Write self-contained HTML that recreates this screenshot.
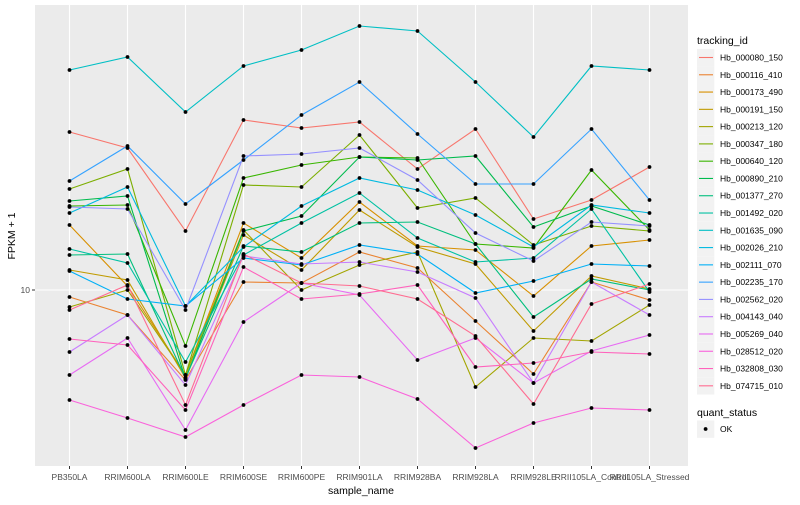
<!DOCTYPE html>
<html><head><meta charset="utf-8"><style>
body{margin:0;background:#fff;font-family:"Liberation Sans",sans-serif}
svg text{font-family:"Liberation Sans",sans-serif}
</style></head><body>
<svg id="chart" width="800" height="500" xmlns="http://www.w3.org/2000/svg">
<rect width="800" height="500" fill="#fff"/>
<g id="plot"></g>
<g id="legend"></g>
</svg>
<script>
const categories=["PB350LA","RRIM600LA","RRIM600LE","RRIM600SE","RRIM600PE","RRIM901LA","RRIM928BA","RRIM928LA","RRIM928LE","RRII105LA_Control","RRII105LA_Stressed"];
const seriesNames=["Hb_000080_150","Hb_000116_410","Hb_000173_490","Hb_000191_150","Hb_000213_120","Hb_000347_180","Hb_000640_120","Hb_000890_210","Hb_001377_270","Hb_001492_020","Hb_001635_090","Hb_002026_210","Hb_002111_070","Hb_002235_170","Hb_002562_020","Hb_004143_040","Hb_005269_040","Hb_028512_020","Hb_032808_030","Hb_074715_010"];
const seriesColors=["#F8766D","#EA8331","#D89000","#C09B00","#A3A500","#7CAE00","#39B600","#00BB4E","#00BF7D","#00C1A3","#00BFC4","#00BAE0","#00B0F6","#35A2FF","#9590FF","#C77CFF","#E76BF3","#FA62DB","#FF62BC","#FF6C91"];
// log10(FPKM + 1) per series
const s0=[2.58,2.42,1.59,2.70,2.62,2.68,2.21,2.61,1.71,1.90,2.23];
const s1=[0.93,0.75,0.10,1.08,1.07,1.38,1.22,0.69,0.16,1.08,0.90];
const s2=[1.65,1.04,0.15,1.67,1.32,1.88,1.44,1.40,0.94,1.44,1.50];
const s3=[1.20,1.10,0.12,1.55,1.20,1.80,1.43,1.26,0.59,1.14,1.01];
const s4=[0.83,1.00,0.15,1.60,1.00,1.25,1.38,0.03,0.52,0.49,0.85];
const s5=[2.01,2.21,0.15,2.05,2.03,2.55,1.82,1.92,1.45,1.64,1.59];
const s6=[1.84,1.85,0.44,2.12,2.25,2.33,2.32,1.46,1.42,2.20,1.60];
const s7=[1.89,1.94,0.11,1.59,1.74,2.33,2.30,2.34,1.63,1.84,1.65];
const s8=[1.35,1.36,0.12,1.44,1.38,1.67,1.68,1.46,0.73,1.11,1.00];
const s9=[1.41,1.27,0.28,1.35,1.67,1.97,1.52,1.28,1.32,1.81,0.98];
const s10=[3.20,3.33,2.78,3.24,3.40,3.64,3.59,3.08,2.53,3.24,3.20];
const s11=[1.77,2.03,0.84,1.43,1.84,2.12,2.00,1.75,1.43,1.85,1.77];
const s12=[1.19,0.91,0.84,1.32,1.25,1.45,1.36,0.97,1.09,1.26,1.24];
const s13=[2.09,2.44,1.86,2.30,2.75,3.08,2.56,2.06,2.06,2.61,1.90];
const s14=[1.83,1.81,0.80,2.34,2.36,2.42,2.10,1.57,1.29,1.68,1.64];
const s15=[0.38,0.75,0.05,1.34,1.26,1.28,1.18,0.92,0.07,1.08,0.75];
const s16=[0.15,0.52,-0.40,0.68,1.07,0.95,0.30,0.52,0.07,0.39,0.55];
const s17=[-0.10,-0.28,-0.47,-0.15,0.15,0.13,-0.09,-0.58,-0.33,-0.18,-0.20];
const s18=[0.51,0.45,-0.20,1.23,0.91,0.96,1.05,0.23,0.27,0.38,0.36];
const s19=[0.80,1.05,-0.15,1.36,1.07,1.04,0.91,0.54,-0.14,0.86,1.06];
const seriesValues=[s0,s1,s2,s3,s4,s5,s6,s7,s8,s9,s10,s11,s12,s13,s14,s15,s16,s17,s18,s19];
const yTickValues=[1];
const yTickLabels=["10"];

const NS="http://www.w3.org/2000/svg";
const P={l:35,r:688,t:5,b:466};
function xPos(i){return 69.5+i*58;}
function yPos(lv){return 290-(lv-1)*100;}
function mk(tag,attrs,parent){const e=document.createElementNS(NS,tag);for(const k in attrs)e.setAttribute(k,attrs[k]);parent.appendChild(e);return e;}
const plot=document.getElementById('plot');
const bg=mk('rect',{x:P.l,y:P.t,width:P.r-P.l,height:P.b-P.t,fill:'#EBEBEB'},plot);


categories.forEach((c,i)=>{
  const g=mk('line',{x1:xPos(i),x2:xPos(i),y1:P.t,y2:P.b,stroke:'#fff','stroke-width':1.1},plot);
  
  
  mk('line',{x1:xPos(i),x2:xPos(i),y1:P.b,y2:P.b+3,stroke:'#333'},plot);
  const t=mk('text',{x:xPos(i),y:480,'font-size':8.5,fill:'#4D4D4D','text-anchor':'middle'},plot);
  t.textContent=c;
  
  
});
yTickValues.forEach((v,i)=>{
  const y=yPos(v);
  const g=mk('line',{x1:P.l,x2:P.r,y1:y,y2:y,stroke:'#fff','stroke-width':1.1},plot);
  
  
  mk('line',{x1:P.l-3,x2:P.l,y1:y,y2:y,stroke:'#333'},plot);
  const t=mk('text',{x:P.l-5,y:y+3,'font-size':8.5,fill:'#4D4D4D','text-anchor':'end'},plot);
  t.textContent=yTickLabels[i];
  
  
});
seriesValues.forEach((vals,si)=>{
  const pts=vals.map((v,i)=>xPos(i)+','+yPos(v)).join(' ');
  const pl=mk('polyline',{points:pts,fill:'none',stroke:seriesColors[si],'stroke-width':1.1},plot);
  
  
});
seriesValues.forEach((vals,si)=>{
  vals.forEach((v,i)=>{
    const c=mk('circle',{cx:xPos(i),cy:yPos(v),r:1.9,fill:'#000'},plot);
    
    
  });
});
const xt=mk('text',{x:361,y:494,'font-size':10.5,fill:'#000','text-anchor':'middle'},plot);
xt.textContent='sample_name';


const yt=mk('text',{x:15,y:236,'font-size':10.5,fill:'#000','text-anchor':'middle',transform:'rotate(-90 15 236)'},plot);
yt.textContent='FPKM + 1';



const lg=document.getElementById('legend');
const lt=mk('text',{x:697,y:44,'font-size':10.5,fill:'#000'},lg);
lt.textContent='tracking_id';


seriesNames.forEach((n,i)=>{
  const y=57.5+i*17.28;
  const g=mk('g',{},lg);
  
  
  mk('rect',{x:697,y:y-8.6,width:17.3,height:17.3,fill:'#F2F2F2'},g);
  mk('line',{x1:699,x2:713,y1:y,y2:y,stroke:seriesColors[i],'stroke-width':1.1},g);
  const t=mk('text',{x:720,y:y+3,'font-size':8.5,fill:'#000'},g);
  t.textContent=n;
});
const qt=mk('text',{x:697,y:416,'font-size':10.5,fill:'#000'},lg);
qt.textContent='quant_status';


const qg=mk('g',{},lg);


mk('rect',{x:697,y:420.5,width:17.3,height:17.3,fill:'#F2F2F2'},qg);
mk('circle',{cx:705.6,cy:429,r:1.9,fill:'#000'},qg);
const ok=mk('text',{x:720,y:432,'font-size':8.5,fill:'#000'},qg);
ok.textContent='OK';
</script>
</body></html>
